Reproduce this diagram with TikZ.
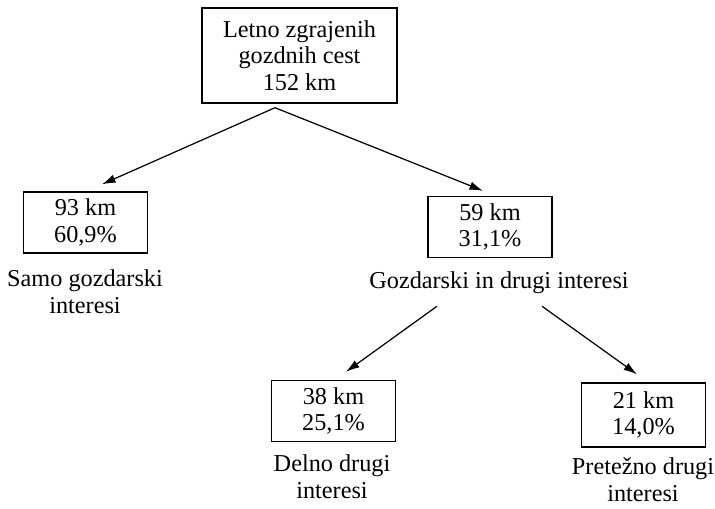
\documentclass[tikz,border=0pt]{standalone}
\usepackage{fontspec}
\setmainfont{Liberation Serif}
\usetikzlibrary{arrows.meta,positioning,calc}

\begin{document}
\begin{tikzpicture}[
  font=\fontsize{13.8}{15.2}\selectfont,
  box/.style={draw,align=center,inner sep=3pt,line width=.8pt,minimum width=2.48cm,minimum height=1.22cm},
  flow/.style={-{Latex[length=2.7mm,width=1.7mm]},line width=.7pt},
  note/.style={align=center}]
  \useasboundingbox (0,0) rectangle (14.3,-10.16);
  \node[box,minimum width=3.9cm,minimum height=1.9cm] (total) at (5.99,-1.11)
    {Letno zgrajenih\\gozdnih cest\\152 km};
  \node[box] (forest) at (1.71,-4.45) {93 km\\60,9\%};
  \node[note] (forestlbl) at (1.70,-5.83) {Samo gozdarski\\interesi};
  \node[box] (mixed) at (9.8,-4.54) {59 km\\31,1\%};
  \node[note] (mixedlbl) at (9.98,-5.66) {Gozdarski in drugi interesi};
  \node[box] (partly) at (6.67,-8.22) {38 km\\25,1\%};
  \node[note] (partlylbl) at (6.64,-9.53) {Delno drugi\\interesi};
  \node[box,minimum height=1.28cm] (mostly) at (12.87,-8.3) {21 km\\14,0\%};
  \node[note] (mostlylbl) at (12.86,-9.6) {Pretežno drugi\\interesi};
  % split points under the labels
  \coordinate (split) at ([xshift=-4.9mm,yshift=-0.8mm]total.south);
  \coordinate (splitl) at ([xshift=-1.24cm,yshift=-1.2mm]mixedlbl.south);
  \coordinate (splitr) at ([xshift=0.86cm,yshift=-1.2mm]mixedlbl.south);
  \draw[flow] (split) -- ([xshift=3.3mm,yshift=1.4mm]forest.north);
  \draw[flow] (split) -- ([xshift=-1.4mm,yshift=1mm]mixed.north);
  \draw[flow] (splitl) -- ([xshift=2.5mm,yshift=1.6mm]partly.north);
  \draw[flow] (splitr) -- ([xshift=-1.3mm,yshift=1.6mm]mostly.north);
\end{tikzpicture}
\end{document}
